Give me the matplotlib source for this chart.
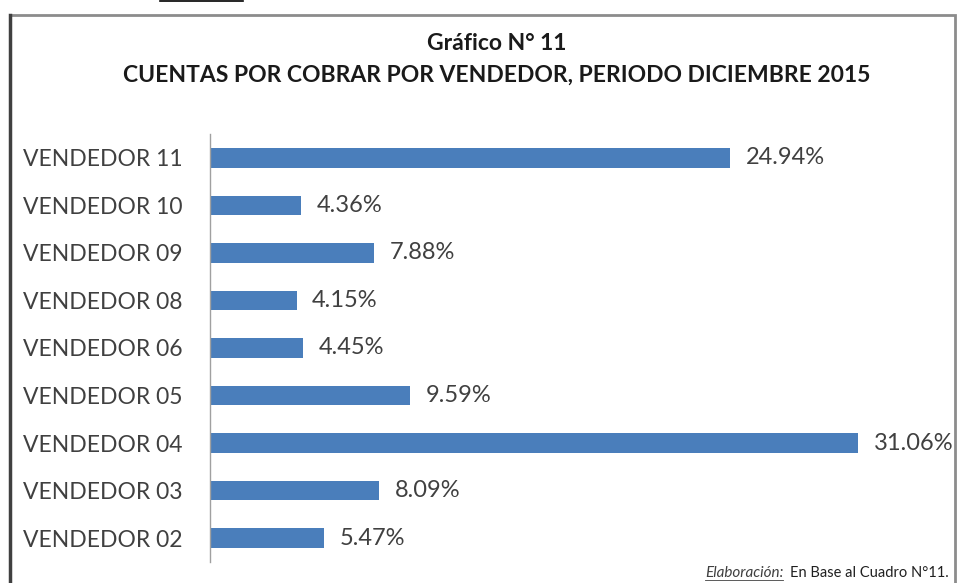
import matplotlib.pyplot as plt
from matplotlib.patches import Rectangle
from matplotlib.lines import Line2D

# accounts receivable share per salesperson, december 2015
vendedores = ['VENDEDOR 02', 'VENDEDOR 03', 'VENDEDOR 04', 'VENDEDOR 05', 'VENDEDOR 06',
              'VENDEDOR 08', 'VENDEDOR 09', 'VENDEDOR 10', 'VENDEDOR 11']
porcentajes = [5.47, 8.09, 31.06, 9.59, 4.45, 4.15, 7.88, 4.36, 24.94]

titulo = 'Gráfico N° 11'
subtitulo = 'CUENTAS POR COBRAR POR VENDEDOR, PERIODO DICIEMBRE 2015'

plt.rcParams['font.family'] = ['Lato', 'DejaVu Sans']
texto_color = '#404040'

fig = plt.figure(figsize=(9.57, 5.83), dpi=100)
W, H = 957, 583

# page frame around the chart
fig.add_artist(Rectangle((9.5 / W, -0.05), (955 - 9.5) / W, (H - 15) / H + 0.05,
                         transform=fig.transFigure, fill=False, edgecolor='#8c8c8c', linewidth=2))
fig.add_artist(Line2D([9.5 / W, 9.5 / W], [0, (H - 15) / H], transform=fig.transFigure,
                      color='#404040', linewidth=2.5))
# leftover underline from the page text above
fig.add_artist(Line2D([160 / W, 243 / W], [(H - 1) / H, (H - 1) / H], transform=fig.transFigure,
                      color='black', linewidth=1.2))

ax = fig.add_axes([210 / W, 21 / H, 730 / W, 428 / H])
y = range(len(vendedores))
ax.barh(y, porcentajes, height=0.41, color='#4a7ebb', zorder=2)
for yi, v in zip(y, porcentajes):
    ax.text(v + 0.75, yi, f'{v:.2f}%', va='center', ha='left', fontsize=17, color=texto_color)

ax.set_xlim(0, 35)
ax.set_ylim(-0.5, len(vendedores) - 0.5)
ax.set_yticks(list(y))
ax.set_yticklabels(vendedores, fontsize=16.5, color=texto_color)
ax.tick_params(axis='y', length=0, pad=19.5)
ax.set_xticks([])
for s in ['top', 'right', 'bottom']:
    ax.spines[s].set_visible(False)
ax.spines['left'].set_color('#a0a0a0')
ax.spines['left'].set_linewidth(1)

fig.text(497 / W, 1 - 43 / H, titulo, ha='center', va='center', fontsize=16.5,
         fontweight='bold', color='#1a1a1a')
fig.text(497 / W, 1 - 75 / H, subtitulo, ha='center', va='center', fontsize=16.5,
         fontweight='bold', color='#1a1a1a')

fig.text(705 / W, 1 - 573 / H, 'Elaboración:', ha='left', va='center', fontsize=11,
         style='italic', color=texto_color)
fig.text(790 / W, 1 - 573 / H, 'En Base al Cuadro N°11.', ha='left', va='center', fontsize=10.5,
         color='#202020')
fig.add_artist(Line2D([705 / W, 783 / W], [1 - 580 / H, 1 - 580 / H], transform=fig.transFigure,
                      color=texto_color, linewidth=0.6))

fig.savefig('out.png', dpi=100)
